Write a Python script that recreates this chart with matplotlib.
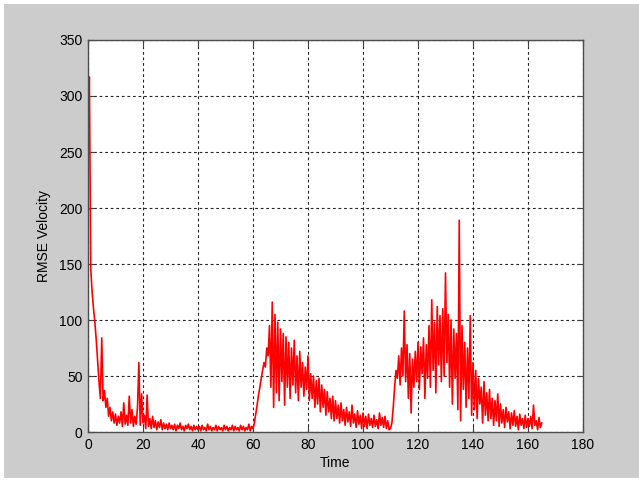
import matplotlib.pyplot as plt
import matplotlib.patches as mpatches
import numpy as np

# time step of the read-off series
dt = 0.5

# RMSE velocity values, every 0.5 time units (t = 0 .. 165)
rmse = [
    290, 317, 145, 125, 110, 98, 82, 64, 45, 30, 84, 28, 37, 22, 30, 14, 22, 10, 18, 8,       # 0-10
    16, 6, 14, 8, 18, 5, 26, 7, 15, 6, 32, 8, 20, 5, 14, 7, 22, 62, 6, 34,                    # 10-20
    8, 15, 3, 33, 5, 12, 3, 14, 4, 10, 2, 9, 4, 11, 2, 8, 3, 7, 2, 8,                         # 20-30
    3, 6, 2, 7, 1, 6, 3, 8, 2, 5, 1, 6, 3, 7, 2, 5, 1, 6, 2, 5,                               # 30-40
    2, 5, 1, 6, 2, 4, 1, 7, 2, 5, 1, 4, 2, 6, 1, 5, 2, 4, 1, 6,                               # 40-50
    2, 5, 1, 4, 2, 6, 1, 5, 2, 4, 1, 6, 2, 5, 1, 4, 2, 7, 1, 5,                               # 50-60
    3, 8, 16, 24, 33, 40, 48, 55, 62, 58, 75, 68, 95, 40, 116, 22, 105, 35, 98, 28,           # 60-70
    92, 45, 88, 24, 85, 40, 80, 30, 75, 42, 82, 35, 68, 28, 72, 40, 62, 32, 58, 38,           # 70-80
    68, 28, 52, 30, 50, 22, 46, 25, 48, 18, 42, 22, 38, 15, 36, 18, 30, 12, 32, 10,           # 80-90
    28, 12, 24, 8, 26, 10, 20, 6, 22, 9, 18, 5, 24, 8, 16, 4, 19, 7, 15, 3,                   # 90-100
    17, 5, 14, 3, 16, 6, 12, 4, 15, 5, 11, 3, 17, 6, 13, 4, 14, 3, 10, 2,                     # 100-110
    3, 8, 22, 40, 55, 48, 68, 42, 75, 50, 108, 45, 78, 30, 70, 17, 65, 40, 72, 45,            # 110-120
    80, 38, 76, 52, 84, 30, 78, 48, 95, 40, 118, 55, 98, 35, 112, 60, 104, 45, 110, 50,       # 120-130
    142, 62, 105, 40, 100, 25, 92, 48, 88, 20, 189, 10, 95, 38, 80, 22, 75, 30, 104, 15,      # 130-140
    62, 20, 55, 12, 48, 25, 40, 8, 45, 15, 35, 10, 38, 12, 30, 6, 28, 10, 34, 5,              # 140-150
    25, 8, 20, 4, 22, 9, 18, 3, 17, 6, 19, 5, 14, 2, 16, 6, 12, 3, 15, 4,                     # 150-160
    12, 5, 14, 3, 24, 6, 10, 2, 13, 4, 8,                                                      # 160-165
]
time = np.arange(len(rmse)) * dt

xticks = list(range(0, 181, 20))
yticks = list(range(0, 351, 50))

plt.rcParams['font.family'] = ['Liberation Sans', 'DejaVu Sans']

fig = plt.figure(figsize=(6.39, 4.82), dpi=100, facecolor='white')
# grey matlab-style window background, thin white strip round the edge
fig.patches.append(mpatches.Rectangle((4 / 639, 4 / 482), 1 - 4 / 639, 1 - 8 / 482,
                                      transform=fig.transFigure, facecolor='#cccccc',
                                      edgecolor='none', zorder=-1))

ax = fig.add_axes([88 / 639, 1 - 432 / 482, (583 - 88) / 639, (432 - 40) / 482])
ax.set_facecolor('white')
ax.plot(time, rmse, color='red', linewidth=1.2)

ax.set_xlim(0, 180)
ax.set_ylim(0, 350)
ax.set_xticks(xticks)
ax.set_yticks(yticks)
ax.grid(True, color='0.15', linestyle=(0, (2.5, 2.5)), linewidth=0.8)
ax.tick_params(direction='in', top=True, right=True, length=4, width=0.8,
               color='0.25', labelsize=10, pad=4)
for s in ax.spines.values():
    s.set_color('0.3')
    s.set_linewidth(1.0)

ax.set_xlabel('Time', fontsize=10, labelpad=3)
ax.set_ylabel('RMSE Velocity', fontsize=10, labelpad=6)

fig.savefig('out.png', dpi=100, facecolor=fig.get_facecolor())
